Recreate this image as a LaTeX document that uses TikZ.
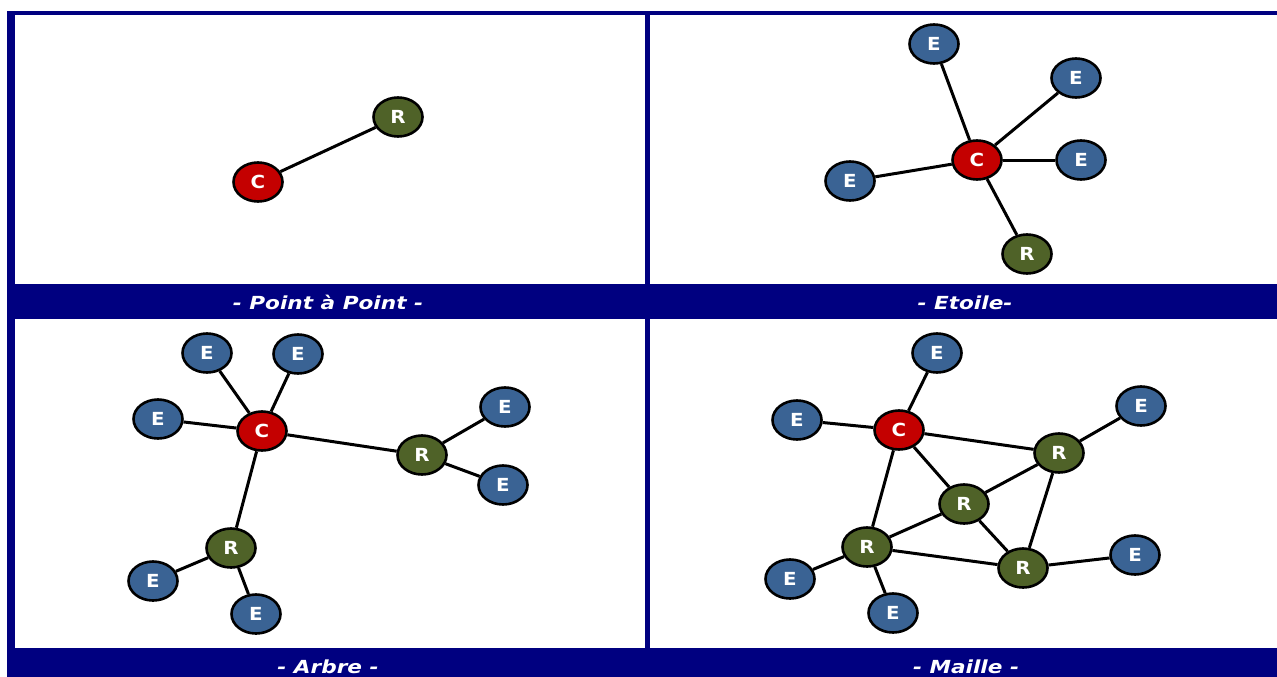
\documentclass[tikz,border=0pt]{standalone}
\usepackage{fontspec}
\setmainfont{DejaVu Sans}
\usetikzlibrary{shapes.geometric}
\definecolor{navy}{RGB}{0,0,128}
\definecolor{redC}{RGB}{196,0,0}
\definecolor{greenR}{RGB}{79,98,40}
\definecolor{blueE}{RGB}{58,99,148}

\begin{document}
\begin{tikzpicture}[x=1pt,y=-1pt,
  nd/.style={ellipse, draw=black, line width=2.6pt, minimum width=49pt,
    minimum height=39pt, inner sep=0pt, text=white,
    font=\bfseries\fontsize{18}{18}\selectfont},
  cn/.style={nd, fill=redC},
  rn/.style={nd, fill=greenR},
  en/.style={nd, fill=blueE},
  link/.style={line width=3pt, draw=black},
  caption/.style={text=white, anchor=base, inner sep=0pt,
    font=\bfseries\itshape\fontsize{18}{18}\selectfont}]

\useasboundingbox (0,0) rectangle (1277,677);

% frame and the four white panels
\fill[navy] (7,11) rectangle (1277,677);
\fill[white] (15,15) rectangle (645,284);
\fill[white] (650,15) rectangle (1277,284);
\fill[white] (15,319) rectangle (645,648);
\fill[white] (650,319) rectangle (1277,648);

% captions
\node[caption] (t1) at (328,309) {\scalebox{1.2}[1]{- Point à Point -}};
\node[caption] (t2) at (965,309) {\scalebox{1.2}[1]{- Etoile-}};
\node[caption] (t3) at (328,673) {\scalebox{1.2}[1]{- Arbre -}};
\node[caption] (t4) at (966,673) {\scalebox{1.2}[1]{- Maille -}};

% point to point
\node[cn] (pc) at (258,182) {\scalebox{1.1}[1]{C}};
\node[rn] (pr) at (398,117) {\scalebox{1.1}[1]{R}};
\draw[link] (pc) -- (pr);

% star
\node[cn] (sc) at (977,160) {\scalebox{1.1}[1]{C}};
\node[en] (se1) at (934,44) {\scalebox{1.1}[1]{E}};
\node[en] (se2) at (1076,78) {\scalebox{1.1}[1]{E}};
\node[en] (se3) at (1081,160) {\scalebox{1.1}[1]{E}};
\node[en] (se4) at (850,181) {\scalebox{1.1}[1]{E}};
\node[rn] (sr) at (1027,254) {\scalebox{1.1}[1]{R}};
\foreach \n in {se1,se2,se3,se4,sr} \draw[link] (sc) -- (\n);

% tree
\node[cn] (ac) at (262,431) {\scalebox{1.1}[1]{C}};
\node[en] (ae1) at (207,353) {\scalebox{1.1}[1]{E}};
\node[en] (ae2) at (298,354) {\scalebox{1.1}[1]{E}};
\node[en] (ae3) at (158,419) {\scalebox{1.1}[1]{E}};
\node[rn] (ar1) at (422,455) {\scalebox{1.1}[1]{R}};
\node[en] (ae4) at (505,407) {\scalebox{1.1}[1]{E}};
\node[en] (ae5) at (503,485) {\scalebox{1.1}[1]{E}};
\node[rn] (ar2) at (231,548) {\scalebox{1.1}[1]{R}};
\node[en] (ae6) at (153,581) {\scalebox{1.1}[1]{E}};
\node[en] (ae7) at (256,614) {\scalebox{1.1}[1]{E}};
\foreach \n in {ae1,ae2,ae3,ar1,ar2} \draw[link] (ac) -- (\n);
\draw[link] (ar1) -- (ae4);
\draw[link] (ar1) -- (ae5);
\draw[link] (ar2) -- (ae6);
\draw[link] (ar2) -- (ae7);

% mesh
\node[cn] (mc) at (899,430) {\scalebox{1.1}[1]{C}};
\node[en] (me1) at (937,353) {\scalebox{1.1}[1]{E}};
\node[en] (me2) at (797,420) {\scalebox{1.1}[1]{E}};
\node[en] (me3) at (1141,406) {\scalebox{1.1}[1]{E}};
\node[rn] (mr1) at (1059,453) {\scalebox{1.1}[1]{R}};
\node[rn] (mr2) at (964,504) {\scalebox{1.1}[1]{R}};
\node[rn] (mr3) at (867,547) {\scalebox{1.1}[1]{R}};
\node[rn] (mr4) at (1023,568) {\scalebox{1.1}[1]{R}};
\node[en] (me4) at (1135,555) {\scalebox{1.1}[1]{E}};
\node[en] (me5) at (790,579) {\scalebox{1.1}[1]{E}};
\node[en] (me6) at (893,613) {\scalebox{1.1}[1]{E}};
\foreach \n in {me1,me2,mr1,mr2,mr3} \draw[link] (mc) -- (\n);
\draw[link] (mr1) -- (me3);
\draw[link] (mr1) -- (mr2);
\draw[link] (mr1) -- (mr4);
\draw[link] (mr2) -- (mr3);
\draw[link] (mr2) -- (mr4);
\draw[link] (mr3) -- (mr4);
\draw[link] (mr4) -- (me4);
\draw[link] (mr3) -- (me5);
\draw[link] (mr3) -- (me6);
\end{tikzpicture}
\end{document}
